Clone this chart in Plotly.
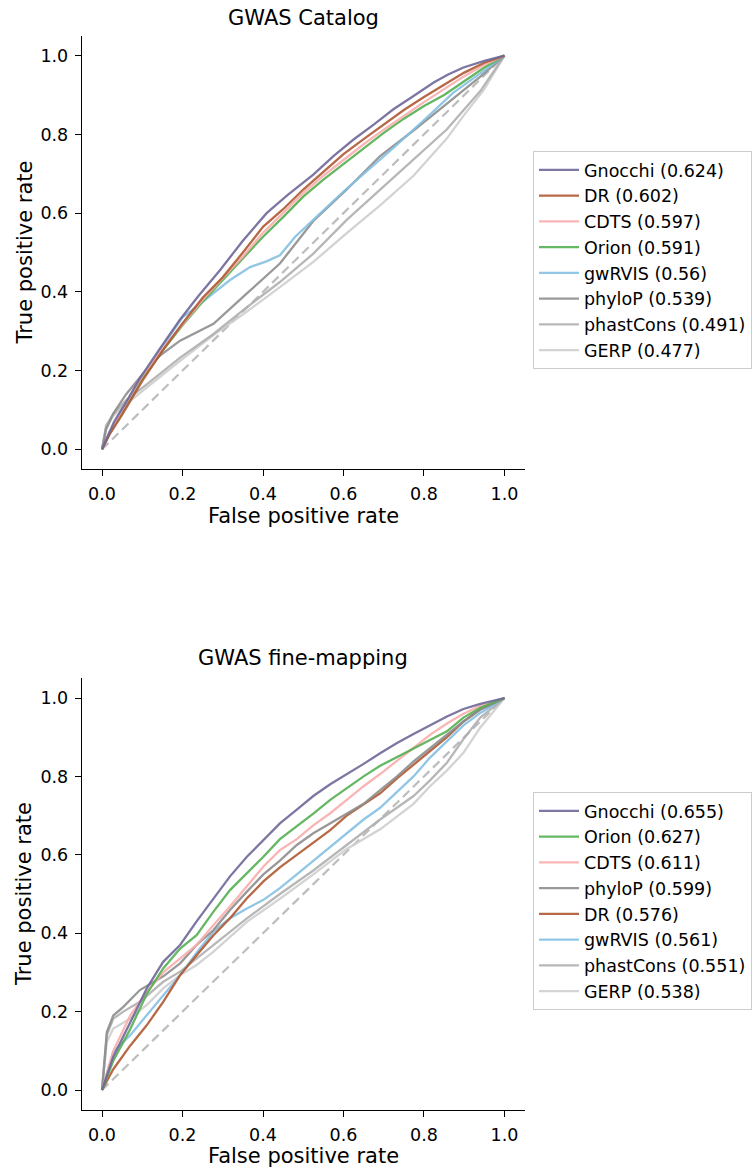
import plotly.graph_objects as go

W, H = 754, 1167

# ---------------- data: GWAS Catalog ----------------
cat_names = ["Gnocchi (0.624)", "DR (0.602)", "CDTS (0.597)", "Orion (0.591)",
             "gwRVIS (0.56)", "phyloP (0.539)", "phastCons (0.491)", "GERP (0.477)"]
cat_colors = ["#6f6899", "#b05a33", "#f9aeae", "#55b052", "#86c0e3", "#8e8e8e", "#b0b0b0", "#cfcfcf"]

cat_gnocchi_x = [0, 0.03, 0.06, 0.094, 0.14, 0.194, 0.24, 0.293, 0.35, 0.409, 0.46, 0.525, 0.575, 0.625, 0.675, 0.724, 0.775, 0.824, 0.86, 0.898, 0.95, 1]
cat_gnocchi_y = [0, 0.07, 0.12, 0.18, 0.25, 0.33, 0.39, 0.455, 0.53, 0.60, 0.645, 0.698, 0.745, 0.787, 0.825, 0.864, 0.898, 0.932, 0.952, 0.97, 0.987, 1]
cat_dr_x = [0, 0.02, 0.05, 0.1, 0.15, 0.2, 0.25, 0.3, 0.35, 0.4, 0.45, 0.5, 0.55, 0.6, 0.65, 0.7, 0.75, 0.8, 0.85, 0.9, 0.95, 1]
cat_dr_y = [0, 0.04, 0.088, 0.174, 0.25, 0.32, 0.385, 0.437, 0.50, 0.565, 0.61, 0.66, 0.705, 0.75, 0.788, 0.825, 0.862, 0.895, 0.925, 0.957, 0.982, 1]
cat_cdts_x = [0, 0.02, 0.05, 0.1, 0.15, 0.2, 0.25, 0.3, 0.35, 0.4, 0.45, 0.5, 0.55, 0.6, 0.65, 0.7, 0.75, 0.8, 0.85, 0.9, 0.95, 1]
cat_cdts_y = [0, 0.045, 0.1, 0.186, 0.255, 0.318, 0.38, 0.435, 0.49, 0.55, 0.60, 0.651, 0.695, 0.735, 0.775, 0.812, 0.848, 0.882, 0.915, 0.948, 0.977, 1]
cat_orion_x = [0, 0.02, 0.05, 0.1, 0.15, 0.2, 0.25, 0.3, 0.35, 0.4, 0.45, 0.5, 0.55, 0.6, 0.65, 0.7, 0.75, 0.8, 0.85, 0.9, 0.95, 1]
cat_orion_y = [0, 0.045, 0.095, 0.18, 0.25, 0.315, 0.375, 0.43, 0.485, 0.54, 0.59, 0.642, 0.685, 0.725, 0.765, 0.804, 0.84, 0.872, 0.90, 0.935, 0.97, 1]
cat_gwrvis_x = [0, 0.02, 0.05, 0.1, 0.15, 0.2, 0.26, 0.318, 0.368, 0.41, 0.442, 0.48, 0.525, 0.6, 0.65, 0.724, 0.807, 0.873, 0.94, 1]
cat_gwrvis_y = [0, 0.045, 0.095, 0.18, 0.26, 0.335, 0.383, 0.43, 0.463, 0.478, 0.493, 0.54, 0.583, 0.655, 0.7, 0.766, 0.843, 0.906, 0.955, 1]
cat_phylop_x = [0, 0.01, 0.028, 0.06, 0.1, 0.144, 0.194, 0.277, 0.36, 0.442, 0.525, 0.608, 0.691, 0.774, 0.857, 0.94, 1]
cat_phylop_y = [0, 0.05, 0.091, 0.14, 0.19, 0.238, 0.276, 0.319, 0.396, 0.472, 0.58, 0.66, 0.745, 0.81, 0.878, 0.947, 1]
cat_phastcons_x = [0, 0.01, 0.028, 0.06, 0.111, 0.194, 0.277, 0.36, 0.442, 0.525, 0.608, 0.691, 0.774, 0.857, 0.94, 1]
cat_phastcons_y = [0, 0.06, 0.09, 0.125, 0.165, 0.233, 0.293, 0.361, 0.425, 0.497, 0.583, 0.659, 0.736, 0.813, 0.91, 1]
cat_gerp_x = [0, 0.01, 0.028, 0.06, 0.111, 0.194, 0.277, 0.36, 0.442, 0.525, 0.608, 0.691, 0.774, 0.857, 0.898, 0.95, 1]
cat_gerp_y = [0, 0.055, 0.085, 0.115, 0.157, 0.225, 0.29, 0.35, 0.412, 0.476, 0.549, 0.62, 0.695, 0.79, 0.847, 0.915, 1]

cat_x = [cat_gnocchi_x, cat_dr_x, cat_cdts_x, cat_orion_x, cat_gwrvis_x, cat_phylop_x, cat_phastcons_x, cat_gerp_x]
cat_y = [cat_gnocchi_y, cat_dr_y, cat_cdts_y, cat_orion_y, cat_gwrvis_y, cat_phylop_y, cat_phastcons_y, cat_gerp_y]

# ---------------- data: GWAS fine-mapping ----------------
fm_names = ["Gnocchi (0.655)", "Orion (0.627)", "CDTS (0.611)", "phyloP (0.599)",
            "DR (0.576)", "gwRVIS (0.561)", "phastCons (0.551)", "GERP (0.538)"]
fm_colors = ["#6f6899", "#55b052", "#f9aeae", "#8e8e8e", "#b05a33", "#86c0e3", "#b0b0b0", "#cfcfcf"]

fm_grid_x = [0, 0.028, 0.07, 0.111, 0.152, 0.194, 0.235, 0.277, 0.318, 0.36, 0.401, 0.442, 0.484, 0.525, 0.567, 0.608, 0.65, 0.691, 0.733, 0.774, 0.815, 0.857, 0.898, 0.94, 1]

fm_gnocchi_x = fm_grid_x
fm_gnocchi_y = [0, 0.085, 0.172, 0.259, 0.327, 0.37, 0.43, 0.489, 0.545, 0.595, 0.638, 0.68, 0.715, 0.75, 0.78, 0.805, 0.832, 0.859, 0.885, 0.908, 0.931, 0.953, 0.972, 0.985, 1]
fm_orion_x = fm_grid_x
fm_orion_y = [0, 0.075, 0.155, 0.245, 0.31, 0.361, 0.395, 0.455, 0.51, 0.552, 0.595, 0.64, 0.672, 0.705, 0.74, 0.77, 0.80, 0.827, 0.85, 0.872, 0.893, 0.915, 0.95, 0.975, 1]
fm_cdts_x = fm_grid_x
fm_cdts_y = [0, 0.1, 0.19, 0.25, 0.30, 0.336, 0.37, 0.421, 0.468, 0.52, 0.57, 0.612, 0.64, 0.675, 0.706, 0.74, 0.775, 0.806, 0.84, 0.875, 0.906, 0.935, 0.96, 0.98, 1]
fm_phylop_x = [0, 0.012, 0.028, 0.053, 0.094, 0.152, 0.194, 0.235, 0.277, 0.318, 0.36, 0.401, 0.442, 0.484, 0.525, 0.567, 0.608, 0.65, 0.691, 0.733, 0.774, 0.815, 0.857, 0.898, 0.94, 1]
fm_phylop_y = [0, 0.148, 0.19, 0.212, 0.255, 0.29, 0.323, 0.37, 0.408, 0.459, 0.506, 0.55, 0.585, 0.625, 0.655, 0.68, 0.705, 0.73, 0.765, 0.80, 0.838, 0.872, 0.905, 0.94, 0.97, 1]
fm_dr_x = fm_grid_x
fm_dr_y = [0, 0.053, 0.113, 0.165, 0.225, 0.293, 0.344, 0.395, 0.438, 0.489, 0.532, 0.568, 0.6, 0.63, 0.663, 0.70, 0.728, 0.757, 0.795, 0.83, 0.863, 0.9, 0.94, 0.972, 1]
fm_gwrvis_x = fm_grid_x
fm_gwrvis_y = [0, 0.097, 0.14, 0.19, 0.242, 0.293, 0.35, 0.404, 0.438, 0.463, 0.485, 0.515, 0.55, 0.585, 0.62, 0.655, 0.69, 0.72, 0.76, 0.80, 0.848, 0.89, 0.93, 0.962, 1]
fm_phastcons_x = [0, 0.012, 0.028, 0.053, 0.094, 0.152, 0.194, 0.235, 0.277, 0.36, 0.442, 0.525, 0.608, 0.691, 0.774, 0.815, 0.857, 0.898, 0.94, 1]
fm_phastcons_y = [0, 0.14, 0.182, 0.2, 0.225, 0.276, 0.302, 0.336, 0.37, 0.438, 0.5, 0.56, 0.625, 0.69, 0.75, 0.79, 0.835, 0.895, 0.95, 1]
fm_gerp_x = [0, 0.012, 0.028, 0.07, 0.111, 0.152, 0.194, 0.235, 0.277, 0.36, 0.442, 0.525, 0.608, 0.691, 0.774, 0.815, 0.857, 0.898, 0.94, 1]
fm_gerp_y = [0, 0.123, 0.157, 0.182, 0.217, 0.259, 0.293, 0.319, 0.353, 0.429, 0.488, 0.55, 0.615, 0.665, 0.73, 0.775, 0.815, 0.86, 0.925, 1]

fm_x = [fm_gnocchi_x, fm_orion_x, fm_cdts_x, fm_phylop_x, fm_dr_x, fm_gwrvis_x, fm_phastcons_x, fm_gerp_x]
fm_y = [fm_gnocchi_y, fm_orion_y, fm_cdts_y, fm_phylop_y, fm_dr_y, fm_gwrvis_y, fm_phastcons_y, fm_gerp_y]

diag = [0, 1]
titles = ["GWAS Catalog", "GWAS fine-mapping"]
tick_vals = [0.0, 0.2, 0.4, 0.6, 0.8, 1.0]
tick_text = ["0.0", "0.2", "0.4", "0.6", "0.8", "1.0"]

FONT = "DejaVu Sans"
fig = go.Figure()

panels = [
    (cat_names, cat_colors, cat_x, cat_y, "x", "y", "legend"),
    (fm_names, fm_colors, fm_x, fm_y, "x2", "y2", "legend2"),
]
for names, colors, xs, ys, xa, ya, lg in panels:
    fig.add_trace(go.Scatter(x=diag, y=diag, mode="lines", xaxis=xa, yaxis=ya,
                             line=dict(color="#bdbdbd", width=2.2, dash="9px,5px"),
                             showlegend=False, hoverinfo="skip"))
    # draw in reverse so the leading series sit on top, but keep legend order
    for i in reversed(range(len(names))):
        fig.add_trace(go.Scatter(x=xs[i], y=ys[i], mode="lines", name=names[i],
                                 xaxis=xa, yaxis=ya, legend=lg, legendrank=i + 1,
                                 line=dict(color=colors[i], width=2.3, shape="linear"),
                                 opacity=0.9))

def px_to_paper_y(py):
    return 1 - py / H

xdom = [81.9 / W, 524.6 / W]
ydom_top = [px_to_paper_y(469), px_to_paper_y(36)]
ydom_bot = [px_to_paper_y(1109.6), px_to_paper_y(678.4)]

axis_common = dict(range=[-0.05, 1.05], showgrid=False, zeroline=False, showline=True,
                   linecolor="black", linewidth=1.3, ticks="outside", ticklen=6,
                   tickwidth=1.3, tickcolor="black", tickvals=tick_vals, ticktext=tick_text,
                   tickfont=dict(family=FONT, size=17.5, color="black"), mirror=False,
                   ticklabelstandoff=3)

legend_common = dict(x=533 / W, xanchor="left", yanchor="top",
                     bordercolor="#cccccc", borderwidth=1, bgcolor="white",
                     font=dict(family=FONT, size=17.5, color="black"), traceorder="normal",
                     itemwidth=40)

fig.update_layout(
    width=W, height=H, margin=dict(l=0, r=0, t=0, b=0),
    paper_bgcolor="white", plot_bgcolor="white",
    font=dict(family=FONT, color="black"),
    xaxis=dict(domain=xdom, anchor="y", **axis_common),
    yaxis=dict(domain=ydom_top, anchor="x", **axis_common),
    xaxis2=dict(domain=xdom, anchor="y2", **axis_common),
    yaxis2=dict(domain=ydom_bot, anchor="x2", **axis_common),
    legend=dict(y=px_to_paper_y(151), **legend_common),
    legend2=dict(y=px_to_paper_y(792), **legend_common),
    showlegend=True,
)

xc = (xdom[0] + xdom[1]) / 2
ann = []
for title, top_px, xlab_px, ycenter_px in [(titles[0], 27, 525, (36 + 469) / 2),
                                           (titles[1], 667, 1165, (678.4 + 1109.6) / 2)]:
    ann.append(dict(text=title, x=xc, y=px_to_paper_y(top_px + 5), xref="paper", yref="paper",
                    xanchor="center", yanchor="bottom", showarrow=False,
                    font=dict(family=FONT, size=21, color="black")))
    ann.append(dict(text="False positive rate", x=xc, y=px_to_paper_y(xlab_px + 5), xref="paper",
                    yref="paper", xanchor="center", yanchor="bottom", showarrow=False,
                    font=dict(family=FONT, size=21, color="black")))
    ann.append(dict(text="True positive rate", x=10 / W, y=px_to_paper_y(ycenter_px), xref="paper",
                    yref="paper", xanchor="left", yanchor="middle", textangle=-90,
                    showarrow=False, font=dict(family=FONT, size=21, color="black")))
fig.update_layout(annotations=ann)

fig.write_html("out.html", config={"displayModeBar": False},
               post_script="document.body.style.margin='0';document.body.style.overflow='hidden';")
